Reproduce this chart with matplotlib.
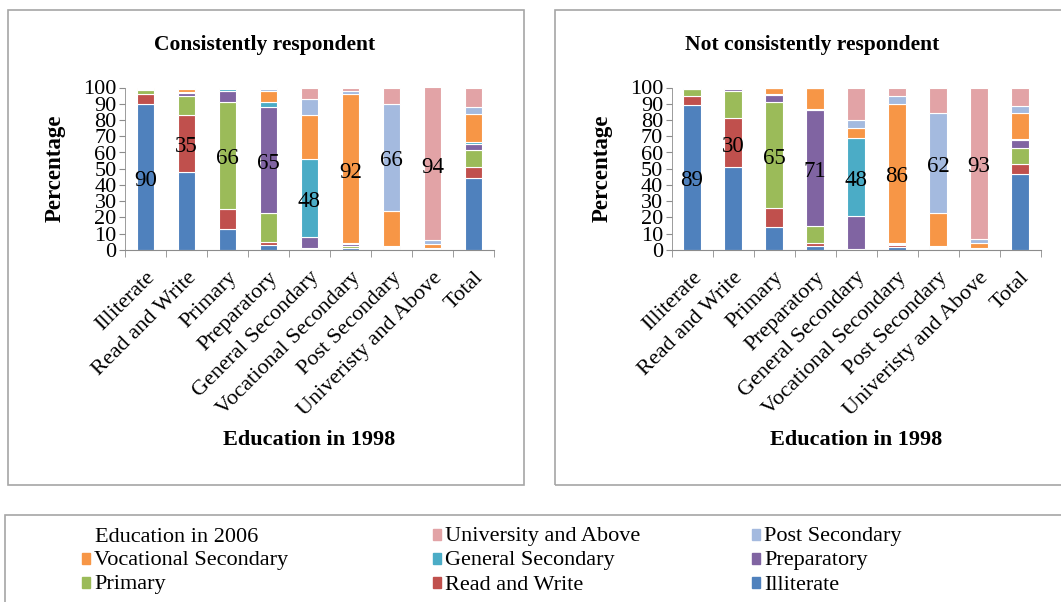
import numpy as np
import matplotlib
matplotlib.use("Agg")
from matplotlib import pyplot as plt
from matplotlib.patches import Rectangle

plt.rcParams['font.family'] = ['Liberation Serif', 'DejaVu Serif']

categories = ['Illiterate', 'Read and Write', 'Primary', 'Preparatory', 'General Secondary',
              'Vocational Secondary', 'Post Secondary', 'Univeristy and Above', 'Total']
series = ['Illiterate', 'Read and Write', 'Primary', 'Preparatory', 'General Secondary',
          'Vocational Secondary', 'Post Secondary', 'University and Above']
colors = ['#4F81BD', '#C0504D', '#9BBB59', '#8064A2', '#4BACC6', '#F79646', '#A4BADF', '#E2A3A6']

# consistently respondent: share (%) of each 1998 group by 2006 education
cons_ill = [90, 48, 13, 3, 0.3, 1, 0.5, 0.3, 44]
cons_rw = [6, 35, 12, 2, 0.2, 0.5, 0.3, 0.2, 7]
cons_pri = [2.5, 12, 66, 18, 0.5, 1, 0.7, 0.3, 10.5]
cons_prep = [0.5, 1.5, 7, 65, 7, 1, 0.3, 0.2, 4]
cons_gs = [0.2, 0.5, 0.8, 3, 48, 0.5, 0.5, 0.5, 1]
cons_vs = [0.5, 2, 0.7, 7, 27, 92, 21.7, 2, 17]
cons_ps = [0.2, 0.5, 0.3, 1, 10, 2, 66, 2.5, 4.5]
cons_uni = [0.1, 0.5, 0.2, 1, 7, 2, 10, 94, 12]

# not consistently respondent
notc_ill = [89, 51, 14, 2.5, 0.3, 2, 0.3, 0.3, 47]
notc_rw = [5.5, 30, 12, 1.5, 0.2, 1, 0.2, 0.2, 6]
notc_pri = [4.5, 17, 65, 11, 0.3, 0.5, 1, 0.2, 10]
notc_prep = [0.3, 1, 4.5, 71, 20, 0.5, 0.2, 0.3, 5]
notc_gs = [0.2, 0.2, 0.5, 0.5, 48, 0.3, 0.8, 0.3, 0.5]
notc_vs = [0.3, 0.3, 4, 13, 6, 85.7, 20, 3.2, 16]
notc_ps = [0.1, 0.3, 0, 0.3, 5, 5, 62, 2.5, 4]
notc_uni = [0.1, 0.2, 0, 0.2, 20.2, 5, 15.5, 93, 11.5]

cons = [cons_ill, cons_rw, cons_pri, cons_prep, cons_gs, cons_vs, cons_ps, cons_uni]
notc = [notc_ill, notc_rw, notc_pri, notc_prep, notc_gs, notc_vs, notc_ps, notc_uni]

W, H = 1061, 602
fig = plt.figure(figsize=(W / 100, H / 100), dpi=100)
grey = '#8C8C8C'


def panel(data, title, ax_left, panel_left):
    # chart border
    fig.patches.append(Rectangle((panel_left / W, 1 - 485 / H), 516 / W, 475 / H,
                                 transform=fig.transFigure, fill=False,
                                 edgecolor='#A6A6A6', linewidth=1.2))
    ax = fig.add_axes([ax_left / W, 1 - 250 / H, 369 / W, 162.5 / H])
    x = np.arange(len(categories))
    bottom = np.zeros(len(categories))
    for i, vals in enumerate(data):
        vals = np.array(vals, dtype=float)
        ax.bar(x, vals, 0.42, bottom=bottom, color=colors[i], edgecolor='white', linewidth=0.8)
        # label the diagonal segment (stayed in the same group)
        ax.text(i, bottom[i] + vals[i] / 2 - 2, f"{vals[i]:.0f}", ha='center', va='center',
                fontsize=16.5, color='black')
        bottom += vals
    ax.set_xlim(-0.5, len(categories) - 0.5)
    ax.set_ylim(0, 100)
    ax.set_yticks(np.arange(0, 101, 10))
    ax.tick_params(axis='y', labelsize=16, length=4, color=grey, pad=2)
    ax.set_xticks(x)
    ax.set_xticklabels(categories, rotation=45, ha='right', rotation_mode='anchor', fontsize=16)
    ax.tick_params(axis='x', length=0, pad=13)
    ax.set_xticks(np.arange(-0.5, len(categories)), minor=True)
    ax.tick_params(axis='x', which='minor', length=5, color=grey)
    for s in ['top', 'right']:
        ax.spines[s].set_visible(False)
    for s in ['left', 'bottom']:
        ax.spines[s].set_color(grey)
    ax.spines['left'].set_linewidth(0.6)
    ax.set_ylabel('Percentage', fontsize=16.5, fontweight='bold')
    ax.yaxis.set_label_coords((panel_left + 58 - ax_left) / 369, 0.5)
    ax.set_xlabel('Education in 1998', fontsize=16, fontweight='bold')
    ax.xaxis.set_label_coords(0.5, -1.11)
    fig.text((panel_left + 257) / W, 1 - 45 / H, title, ha='center', va='center',
             fontsize=15.5, fontweight='bold')
    return ax


panel(cons, 'Consistently respondent', 125, 8)
panel(notc, 'Not consistently respondent', 671.5, 555)

# legend box
fig.patches.append(Rectangle((5 / W, -0.05), 1.1, 0.05 + 1 - 515 / H, transform=fig.transFigure,
                             fill=False, edgecolor='#A6A6A6', linewidth=1.2))
col_x = [82, 433, 752]
row_y = [537, 561, 585]
fig.text(95 / W, 1 - row_y[0] / H, 'Education in 2006', fontsize=16, va='center')
order = [7, 6, 5, 4, 3, 2, 1, 0]
slots = [(0, 1), (0, 2), (1, 0), (1, 1), (1, 2), (2, 0), (2, 1), (2, 2)]
for k, (r, c) in zip(order, slots):
    fig.patches.append(Rectangle((col_x[c] / W, 1 - (row_y[r] + 3) / H), 8 / W, 11 / H,
                                 transform=fig.transFigure, color=colors[k]))
    fig.text((col_x[c] + 12) / W, 1 - row_y[r] / H, series[k], fontsize=16, va='center')

fig.savefig('out.png', dpi=100)
